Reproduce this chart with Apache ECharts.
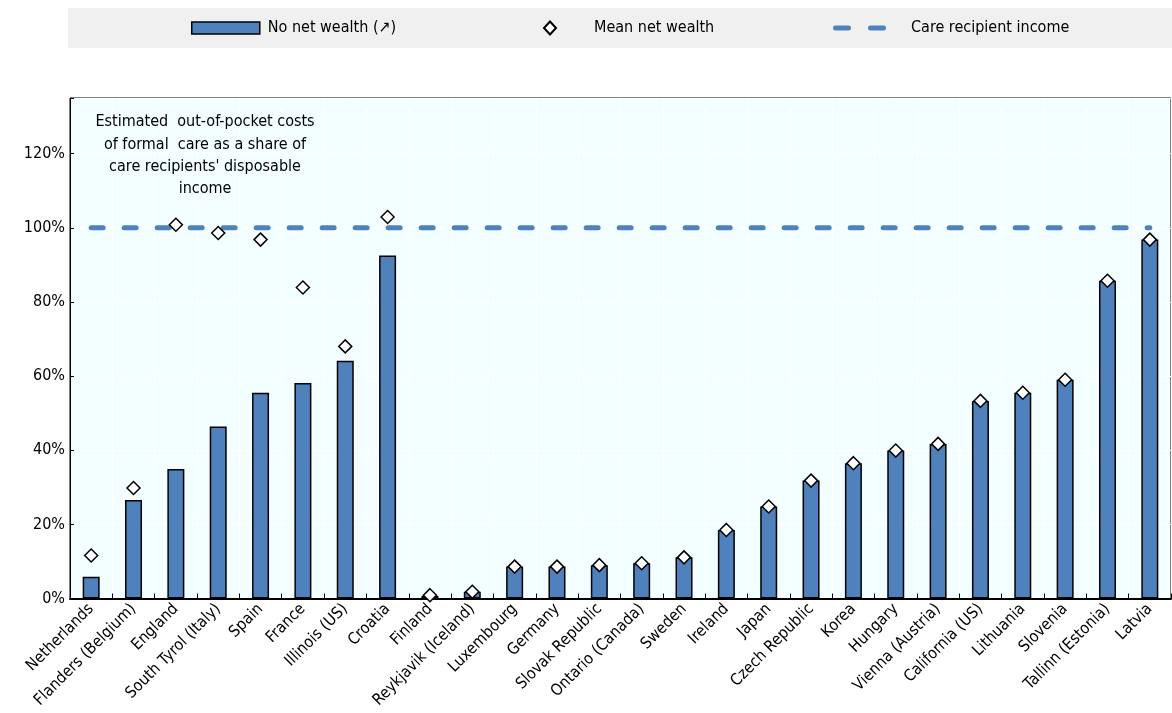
<!DOCTYPE html>
<html>
<head>
<meta charset="utf-8">
<script src="https://cdn.jsdelivr.net/npm/echarts@6/dist/echarts.min.js"></script>
<style>
html,body{margin:0;padding:0;background:#fff;}
#chart{width:1172px;height:713px;}
</style>
</head>
<body>
<div id="chart"></div>
<script>
var categories = ["Netherlands","Flanders (Belgium)","England","South Tyrol (Italy)","Spain","France","Illinois (US)","Croatia","Finland","Reykjavik (Iceland)","Luxembourg","Germany","Slovak Republic","Ontario (Canada)","Sweden","Ireland","Japan","Czech Republic","Korea","Hungary","Vienna (Austria)","California (US)","Lithuania","Slovenia","Tallinn (Estonia)","Latvia"];
var noNetWealth = [5.9,26.6,34.9,46.4,55.5,58.1,64.1,92.5,0.7,1.8,8.6,8.6,9.0,9.5,11.1,18.5,24.8,31.8,36.5,39.9,41.7,53.3,55.5,59.0,85.7,96.8];
var meanNetWealth = [11.6,29.8,100.8,98.6,96.8,83.9,68.0,102.9,0.9,1.8,8.6,8.6,9.0,9.5,11.1,18.5,24.8,31.8,36.5,39.9,41.7,53.3,55.5,59.0,85.7,96.8];
var careRecipientIncome = [100,100,100,100,100,100,100,100,100,100,100,100,100,100,100,100,100,100,100,100,100,100,100,100,100,100];
var yTicks = [0,20,40,60,80,100,120];
var annotationLines = ["Estimated  out-of-pocket costs","of formal  care as a share of","care recipients' disposable","income"];

var FONT = '"Liberation Sans Narrow","Arial Narrow","DejaVu Sans Condensed","Liberation Sans",Arial,sans-serif';
var BLUE = '#4f81bd';

var chart = echarts.init(document.getElementById('chart'), null, {renderer:'canvas'});
chart.setOption({
  animation:false,
  textStyle:{fontFamily:FONT},
  graphic:[
    {type:'rect', z:-10, shape:{x:68,y:8,width:1104,height:40}, style:{fill:'#f0f0f0'}},
    {type:'text', z:100, x:205, y:111, style:{text:annotationLines.join('\n'), font:'16px '+FONT, fill:'#000', align:'center', verticalAlign:'top', lineHeight:22.3}}
  ],
  legend:[
    {data:[{name:'No net wealth (\u2197)', icon:'rect'}], left:191, top:20, padding:0, itemWidth:68, itemHeight:12, itemGap:0,
     itemStyle:{borderColor:'#000', borderWidth:1.5},
     textStyle:{fontSize:16, color:'#000', fontFamily:FONT, padding:[0,0,0,3]}},
    {data:[{name:'Mean net wealth', icon:'diamond'}], left:543, top:20, padding:0, itemWidth:12, itemHeight:13, itemGap:0,
     textStyle:{fontSize:16, color:'#000', fontFamily:FONT, padding:[0,0,0,33]}},
    {data:[{name:'Care recipient income', icon:'path://M2.5,0 h13 a2.5,2.5 0 0 1 0,5 h-13 a2.5,2.5 0 0 1 0,-5 z M37.5,0 h13 a2.5,2.5 0 0 1 0,5 h-13 a2.5,2.5 0 0 1 0,-5 z'}],
     left:833, top:20, padding:0, itemWidth:53, itemHeight:5, itemGap:0,
     itemStyle:{color:BLUE, borderWidth:0},
     textStyle:{fontSize:16, color:'#000', fontFamily:FONT, padding:[0,0,0,20]}}
  ],
  grid:{left:70, right:1, top:98, bottom:114.5, show:true, backgroundColor:'#f2feff', borderColor:'#000', borderWidth:1},
  xAxis:{
    type:'category', data:categories,
    axisLine:{lineStyle:{color:'#000', width:2}},
    axisTick:{show:true, inside:true, length:5, alignWithLabel:false, lineStyle:{color:'#000', width:1}},
    splitLine:{show:true, lineStyle:{color:'#ffffff', width:1}},
    axisLabel:{interval:0, rotate:45, fontSize:16, color:'#000', fontFamily:FONT, margin:8}
  },
  yAxis:{
    type:'value', min:0, max:135, interval:20,
    axisLine:{show:true, lineStyle:{color:'#000', width:1}},
    axisTick:{show:true, inside:true, length:4, lineStyle:{color:'#000'}},
    splitLine:{show:true, lineStyle:{color:'#ffffff', width:1}},
    axisLabel:{fontSize:16, color:'#000', fontFamily:FONT, margin:5,
      formatter:function(v){ return yTicks.indexOf(v) >= 0 ? v + '%' : ''; }}
  },
  series:[
    {name:'No net wealth (\u2197)', type:'bar', data:noNetWealth, barWidth:17,
     itemStyle:{color:BLUE, borderColor:'#000', borderWidth:1.5}, z:2},
    {name:'Care recipient income', type:'line', data:careRecipientIncome, symbol:'none',
     lineStyle:{color:BLUE, width:5, type:[12,21], cap:'round'}, itemStyle:{color:BLUE}, z:3},
    {name:'Mean net wealth', type:'scatter', data:meanNetWealth, symbol:'diamond', symbolSize:[13,13],
     itemStyle:{color:'#fff', borderColor:'#000', borderWidth:1.5, opacity:1}, z:4}
  ]
});
</script>
</body>
</html>
